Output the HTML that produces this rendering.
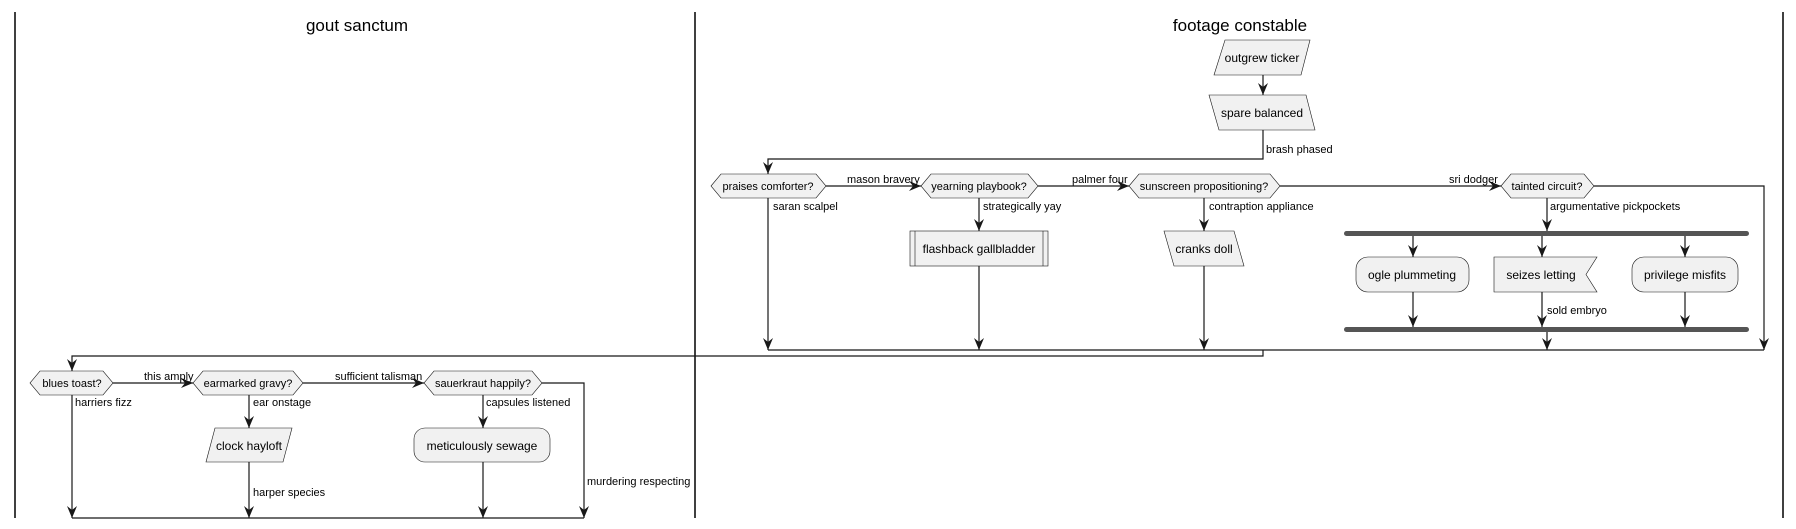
<!DOCTYPE html>
<html><head><meta charset="utf-8"><style>
html,body{margin:0;padding:0;background:#fff;}
svg{display:block;font-family:"Liberation Sans",sans-serif;}
.n{fill:#f1f1f1;stroke:#181818;stroke-width:0.6;}
.l{fill:none;stroke:#181818;stroke-width:1.2;}
.t{font-size:11px;fill:#000;}
.nt{font-size:12px;fill:#000;text-anchor:middle;}
</style></head><body>
<svg width="1796" height="529" viewBox="0 0 1796 529" xmlns="http://www.w3.org/2000/svg">
<defs>
<marker id="a" markerWidth="12" markerHeight="12" refX="12" refY="6" orient="auto" markerUnits="userSpaceOnUse">
<path d="M0,1 L12,6 L0,11 L4,6 z" fill="#181818"/>
</marker>
</defs>
<line x1="15" y1="12" x2="15" y2="518" stroke="#000" stroke-width="1.5"/>
<line x1="695" y1="12" x2="695" y2="518" stroke="#000" stroke-width="1.5"/>
<line x1="1783" y1="12" x2="1783" y2="518" stroke="#000" stroke-width="1.5"/>
<text x="357" y="31" font-size="17" text-anchor="middle">gout sanctum</text>
<text x="1240" y="31" font-size="17" text-anchor="middle">footage constable</text>

<polygon class="n" points="1225,40 1310,40 1301,75 1214,75"/>
<text class="nt" x="1262" y="62">outgrew ticker</text>
<polygon class="n" points="1209,95 1306,95 1315,130 1219,130"/>
<text class="nt" x="1262" y="117">spare balanced</text>
<path class="l" d="M1263,75 V95" marker-end="url(#a)"/>
<path class="l" d="M1263,130 V159 H768 V174" marker-end="url(#a)"/>
<text class="t" x="1266" y="153">brash phased</text>

<polygon class="n" points="711,186 721,174 816,174 826,186 816,198 721,198"/>
<text class="t" x="768" y="190" text-anchor="middle">praises comforter?</text>
<polygon class="n" points="921,186 931,174 1028,174 1038,186 1028,198 931,198"/>
<text class="t" x="979" y="190" text-anchor="middle">yearning playbook?</text>
<polygon class="n" points="1129,186 1139,174 1270,174 1280,186 1270,198 1139,198"/>
<text class="t" x="1204" y="190" text-anchor="middle">sunscreen propositioning?</text>
<polygon class="n" points="1501,186 1511,174 1584,174 1594,186 1584,198 1511,198"/>
<text class="t" x="1547" y="190" text-anchor="middle">tainted circuit?</text>

<path class="l" d="M826,186 H921" marker-end="url(#a)"/>
<text class="t" x="847" y="183">mason bravery</text>
<path class="l" d="M1038,186 H1129" marker-end="url(#a)"/>
<text class="t" x="1072" y="183">palmer four</text>
<path class="l" d="M1280,186 H1501" marker-end="url(#a)"/>
<text class="t" x="1449" y="183">sri dodger</text>
<path class="l" d="M1594,186 H1764 V350" marker-end="url(#a)"/>

<path class="l" d="M768,198 V350" marker-end="url(#a)"/>
<text class="t" x="773" y="210">saran scalpel</text>
<path class="l" d="M979,198 V231" marker-end="url(#a)"/>
<text class="t" x="983" y="210">strategically yay</text>
<path class="l" d="M1204,198 V231" marker-end="url(#a)"/>
<text class="t" x="1209" y="210">contraption appliance</text>
<path class="l" d="M1547,198 V231" marker-end="url(#a)"/>
<text class="t" x="1550" y="210">argumentative pickpockets</text>

<rect class="n" x="910" y="231" width="138" height="35"/>
<line x1="915" y1="231" x2="915" y2="266" stroke="#181818" stroke-width="0.6"/>
<line x1="1043" y1="231" x2="1043" y2="266" stroke="#181818" stroke-width="0.6"/>
<text class="nt" x="979" y="253">flashback gallbladder</text>
<polygon class="n" points="1164,231 1234,231 1244,266 1174,266"/>
<text class="nt" x="1204" y="253">cranks doll</text>
<path class="l" d="M979,266 V350" marker-end="url(#a)"/>
<path class="l" d="M1204,266 V350" marker-end="url(#a)"/>

<rect x="1344" y="231" width="405" height="5" rx="2.5" fill="#555"/>
<rect x="1344" y="327" width="405" height="5" rx="2.5" fill="#555"/>
<path class="l" d="M1413,236 V257" marker-end="url(#a)"/>
<path class="l" d="M1542,236 V257" marker-end="url(#a)"/>
<path class="l" d="M1685,236 V257" marker-end="url(#a)"/>
<rect class="n" x="1356" y="257" width="113" height="35" rx="12"/>
<text class="nt" x="1412" y="279">ogle plummeting</text>
<polygon class="n" points="1494,257 1597,257 1586,274.5 1597,292 1494,292"/>
<text class="nt" x="1541" y="279">seizes letting</text>
<rect class="n" x="1632" y="257" width="106" height="35" rx="12"/>
<text class="nt" x="1685" y="279">privilege misfits</text>
<path class="l" d="M1413,292 V327" marker-end="url(#a)"/>
<path class="l" d="M1542,292 V327" marker-end="url(#a)"/>
<text class="t" x="1547" y="314">sold embryo</text>
<path class="l" d="M1685,292 V327" marker-end="url(#a)"/>
<path class="l" d="M1547,332 V350" marker-end="url(#a)"/>

<path class="l" d="M768,350 H1764"/>
<path class="l" d="M1263,350 V356 H72 V371" marker-end="url(#a)"/>

<polygon class="n" points="30,383 40,371 103,371 113,383 103,395 40,395"/>
<text class="t" x="72" y="387" text-anchor="middle">blues toast?</text>
<polygon class="n" points="193,383 203,371 293,371 303,383 293,395 203,395"/>
<text class="t" x="248" y="387" text-anchor="middle">earmarked gravy?</text>
<polygon class="n" points="424,383 434,371 532,371 542,383 532,395 434,395"/>
<text class="t" x="483" y="387" text-anchor="middle">sauerkraut happily?</text>
<path class="l" d="M113,383 H193" marker-end="url(#a)"/>
<text class="t" x="144" y="380">this amply</text>
<path class="l" d="M303,383 H424" marker-end="url(#a)"/>
<text class="t" x="335" y="380">sufficient talisman</text>
<path class="l" d="M542,383 H584 V518" marker-end="url(#a)"/>
<text class="t" x="587" y="485">murdering respecting</text>

<path class="l" d="M72,395 V518" marker-end="url(#a)"/>
<text class="t" x="75" y="406">harriers fizz</text>
<path class="l" d="M249,395 V428" marker-end="url(#a)"/>
<text class="t" x="253" y="406">ear onstage</text>
<path class="l" d="M483,395 V428" marker-end="url(#a)"/>
<text class="t" x="486" y="406">capsules listened</text>

<polygon class="n" points="215,428 292,428 283,462 206,462"/>
<text class="nt" x="249" y="450">clock hayloft</text>
<rect class="n" x="414" y="428" width="136" height="34" rx="11"/>
<text class="nt" x="482" y="450">meticulously sewage</text>
<path class="l" d="M249,462 V518" marker-end="url(#a)"/>
<text class="t" x="253" y="496">harper species</text>
<path class="l" d="M483,462 V518" marker-end="url(#a)"/>
<path class="l" d="M72,518 H584"/>
</svg>
</body></html>
